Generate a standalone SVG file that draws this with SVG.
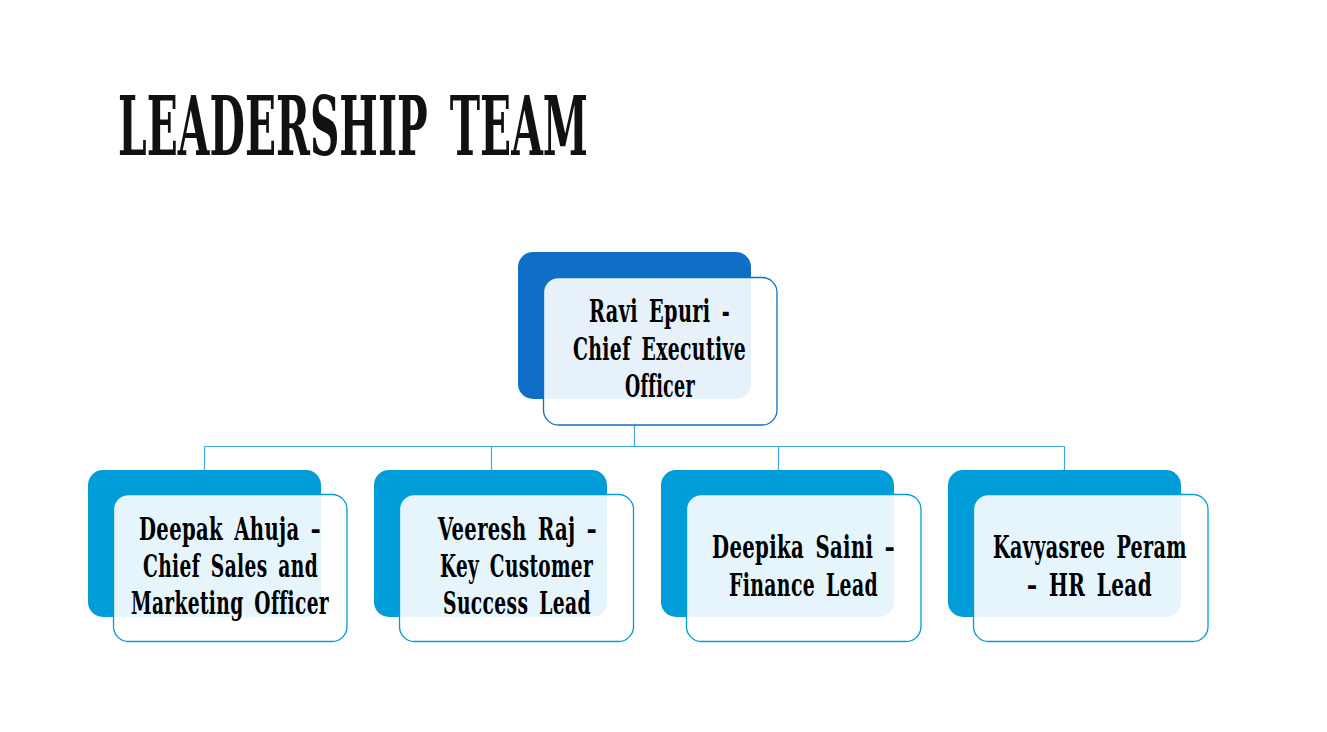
<svg xmlns="http://www.w3.org/2000/svg" width="1327" height="732" viewBox="0 0 1327 732">
<style>
.t{font-family:"DejaVu Serif Condensed","DejaVu Serif","Liberation Serif",serif;font-stretch:condensed;font-weight:bold;font-size:31px;fill:#000;word-spacing:6px;letter-spacing:0.5px}
.title{font-family:"DejaVu Serif Condensed","DejaVu Serif",serif;font-stretch:condensed;font-weight:bold;font-size:82px;fill:#111;word-spacing:14px}
.backTop{fill:#0F6FC6}
.back{fill:#009DD9}
.frontTop{fill:#fff;fill-opacity:0.9;stroke:#0F6FC6;stroke-width:1.3}
.front{fill:#fff;fill-opacity:0.9;stroke:#009DD9;stroke-width:1.3}
.c{stroke:#3FA9DD;stroke-width:1.2;fill:none}
</style>
<rect width="1327" height="732" fill="#fff"/>
<text class="title" x="118" y="155" textLength="470" lengthAdjust="spacingAndGlyphs">LEADERSHIP TEAM</text>
<g id="connectors">
<path class="c" d="M634.5 425 V446.5 M204.5 446.5 H1064.5 M204.5 446.5 V470 M491.5 446.5 V470 M778.5 446.5 V470 M1064.5 446.5 V470"/>
</g>
<g id="ceo">
<rect class="backTop" x="518" y="252" width="233" height="147" rx="15"/>
<rect class="frontTop" x="543.5" y="277.5" width="233.5" height="147.5" rx="15"/>
<text class="t" x="589" y="322" textLength="141" lengthAdjust="spacingAndGlyphs">Ravi Epuri -</text>
<text class="t" x="573" y="360" textLength="173" lengthAdjust="spacingAndGlyphs">Chief Executive</text>
<text class="t" x="625" y="397" textLength="70" lengthAdjust="spacingAndGlyphs">Officer</text>
</g>
<g id="deepak">
<rect class="back" x="88" y="470" width="233" height="147" rx="15"/>
<rect class="front" x="113.5" y="494.5" width="233.5" height="147" rx="15"/>
<text class="t" x="139" y="540" textLength="182" lengthAdjust="spacingAndGlyphs">Deepak Ahuja –</text>
<text class="t" x="143" y="577" textLength="175" lengthAdjust="spacingAndGlyphs">Chief Sales and</text>
<text class="t" x="131" y="614" textLength="198" lengthAdjust="spacingAndGlyphs">Marketing Officer</text>
</g>
<g id="veeresh">
<rect class="back" x="374" y="470" width="233" height="147" rx="15"/>
<rect class="front" x="399.5" y="494.5" width="234" height="147" rx="15"/>
<text class="t" x="438" y="540" textLength="159" lengthAdjust="spacingAndGlyphs">Veeresh Raj –</text>
<text class="t" x="440" y="577" textLength="153" lengthAdjust="spacingAndGlyphs">Key Customer</text>
<text class="t" x="443" y="614" textLength="148" lengthAdjust="spacingAndGlyphs">Success Lead</text>
</g>
<g id="deepika">
<rect class="back" x="661" y="470" width="233" height="147" rx="15"/>
<rect class="front" x="686.5" y="494.5" width="234.5" height="147" rx="15"/>
<text class="t" x="712" y="558" textLength="183" lengthAdjust="spacingAndGlyphs">Deepika Saini –</text>
<text class="t" x="729" y="596" textLength="149" lengthAdjust="spacingAndGlyphs">Finance Lead</text>
</g>
<g id="kavyasree">
<rect class="back" x="948" y="470" width="233" height="147" rx="15"/>
<rect class="front" x="973.5" y="494.5" width="234.5" height="147" rx="15"/>
<text class="t" x="993" y="558" textLength="194" lengthAdjust="spacingAndGlyphs">Kavyasree Peram</text>
<text class="t" x="1027" y="596" textLength="125" lengthAdjust="spacingAndGlyphs">– HR Lead</text>
</g>
</svg>
